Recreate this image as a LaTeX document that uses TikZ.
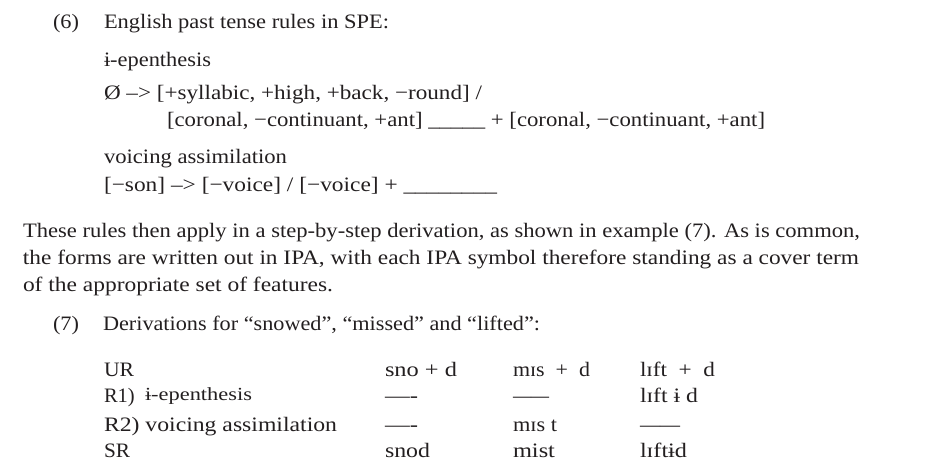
\documentclass[tikz,border=0pt]{standalone}
\usepackage{fontspec}
\setmainfont{Liberation Serif}
\usepackage{graphicx}
\newcommand{\fitw}[2]{\resizebox{#1pt}{\height}{#2}}
\definecolor{ink}{HTML}{231F20}
\begin{document}
\begin{tikzpicture}[x=1pt,y=-1pt,
  txt/.style={anchor=base west,inner sep=0pt,outer sep=0pt,text=ink,font=\fontsize{20.5}{24}\selectfont}]
\useasboundingbox[fill=white] (0,0) rectangle (947,474);
% (6)
\node[txt] (n6) at (53,28) {\fitw{26}{(6)}};
\node[txt] (t6) at (104,28) {\fitw{285}{English past tense rules in SPE:}};
\node[txt] (e1) at (104,66) {\fitw{107}{ɨ-epenthesis}};
\node[txt] (r1a) at (104,99) {\fitw{378}{Ø –> [+syllabic, +high, +back, −round] /}};
\node[txt] (r1b) at (167,126) {\fitw{598}{[coronal, −continuant, +ant] \_\_\_\_\_ + [coronal, −continuant, +ant]}};
\node[txt] (va) at (104,163) {\fitw{183}{voicing assimilation}};
\node[txt] (r2) at (104,191) {\fitw{393}{[−son] –> [−voice] / [−voice] + \_\_\_\_\_\_\_\_}};
% paragraph
\node[txt] (p1) at (23,237) {\fitw{837}{These rules then apply in a step-by-step derivation, as shown in example (7). As is common,}};
\node[txt] (p2) at (23,264) {\fitw{836}{the forms are written out in IPA, with each IPA symbol therefore standing as a cover term}};
\node[txt] (p3) at (23,291) {\fitw{310}{of the appropriate set of features.}};
% (7)
\node[txt] (n7) at (53,330) {\fitw{26}{(7)}};
\node[txt] (t7) at (103,330) {\fitw{437}{Derivations for “snowed”, “missed” and “lifted”:}};
% table
\node[txt] (ur) at (104,376) {\fitw{30}{UR}};
\node[txt] (rr1) at (104,402) {R1)};
\node[txt] (rr1b) at (145,400) {\fitw{107}{\fontsize{18.5}{22}\selectfont ɨ-epenthesis}};
\node[txt] (rr2) at (104,431) {\fitw{233}{R2) voicing assimilation}};
\node[txt] (sr) at (104,457) {\fitw{26}{SR}};
\node[txt] (a1) at (385,376) {\fitw{72}{sno + d}};
\node[txt] (a2) at (385,402) {\fitw{33}{—-}};
\node[txt] (a3) at (385,431) {\fitw{33}{—-}};
\node[txt] (a4) at (385,457) {\fitw{45}{snod}};
\node[txt] (b1) at (513,376) {\fitw{77}{mɪs \ + \ d}};
\node[txt] (b2) at (513,402) {\fitw{36}{——}};
\node[txt] (b3) at (513,431) {\fitw{44}{mɪs t}};
\node[txt] (b4) at (513,457) {\fitw{42}{mist}};
\node[txt] (c1) at (640,376) {\fitw{75}{lɪft \ + \ d}};
\node[txt] (c2) at (640,402) {\fitw{58}{lɪft ɨ d}};
\node[txt] (c3) at (640,431) {\fitw{40}{——}};
\node[txt] (c4) at (640,457) {\fitw{47}{lɪftɨd}};
\end{tikzpicture}
\end{document}
